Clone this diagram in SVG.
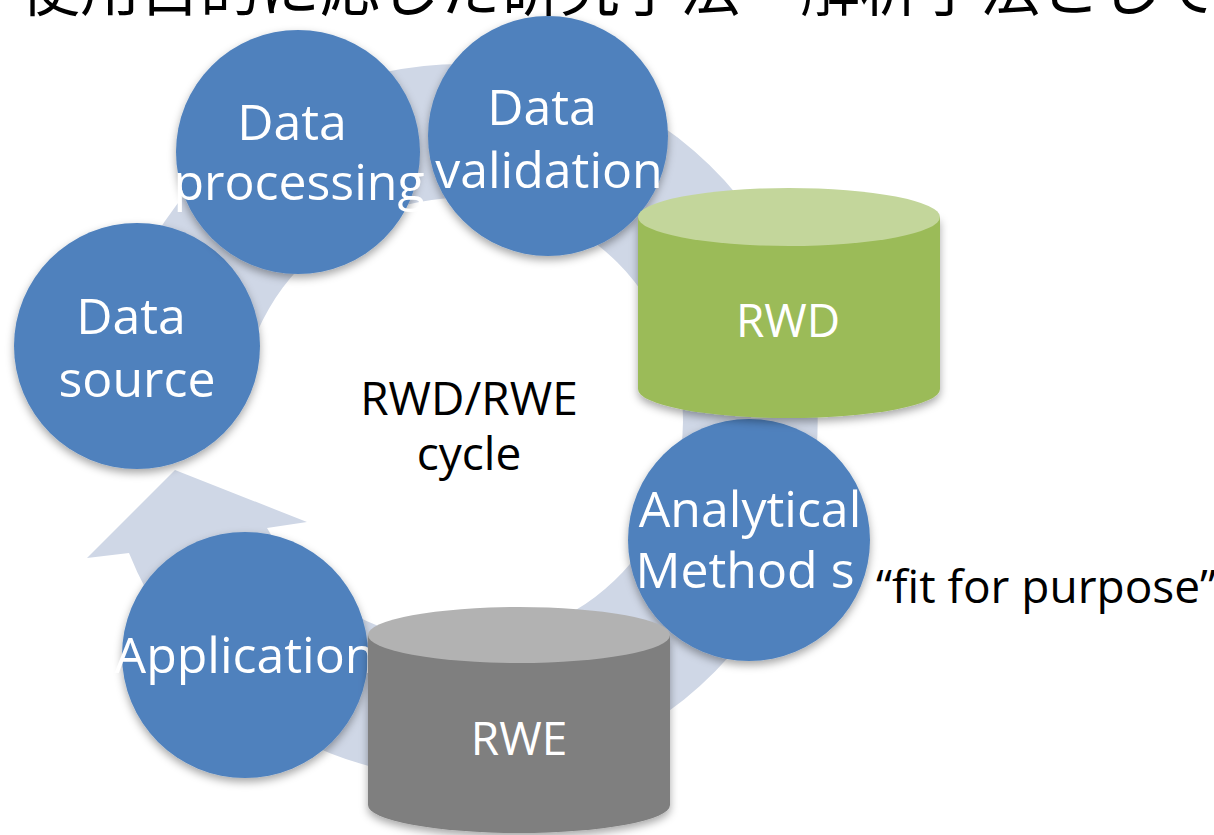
<svg xmlns="http://www.w3.org/2000/svg" width="1214" height="835" viewBox="0 0 1214 835">
  <defs>
    <filter id="sh" x="-20%" y="-20%" width="140%" height="150%">
      <feDropShadow dx="0" dy="4" stdDeviation="4" flood-color="#000" flood-opacity="0.35"/>
    </filter>
    <style>
      .circ { fill: #4F81BD; filter: url(#sh); }
      .wt { fill: #FFFFFF; font-family: "Open Sans", "Noto Sans", sans-serif; font-size: 50px; text-anchor: middle; }
      .cyl-lbl { fill: #FFFFFF; font-family: "Open Sans", "Noto Sans", sans-serif; font-size: 46px; text-anchor: middle; }
      .bk { fill: #000000; font-family: "Open Sans", "Noto Sans", sans-serif; font-size: 46px; }
      .ring { fill: #CFD7E6; }
    </style>
  </defs>
  <rect width="1214" height="835" fill="#FFFFFF"/>

  <text id="title" x="20" y="11" font-family="'Noto Sans CJK JP', sans-serif" font-size="60" fill="#000">使用目的に応じた研究手法・解析手法として</text>

  <g id="connectors">
    <path class="ring" d="M119.6,315.6 A357,357 0 1,1 129,553 L87,558 L175,470 L307,522 L267,528 A222,222 0 1,0 248.7,355.1 Z"/>
  </g>

  <g id="data-source">
    <circle class="circ" cx="137" cy="346" r="123"/>
    <text class="wt" x="131" y="334">Data</text>
    <text class="wt" x="137" y="397">source</text>
  </g>

  <g id="data-processing">
    <circle class="circ" cx="298" cy="152" r="122"/>
    <text class="wt" x="292" y="140">Data</text>
    <text class="wt" x="299" y="200">processing</text>
  </g>

  <g id="data-validation">
    <circle class="circ" cx="548" cy="136" r="120"/>
    <text class="wt" x="542" y="125">Data</text>
    <text class="wt" x="549" y="188">validation</text>
  </g>

  <g id="analytical-methods">
    <circle class="circ" cx="749" cy="540" r="121"/>
    <text class="wt" x="750" y="527">Analytical</text>
    <text class="wt" x="745" y="588">Method s</text>
  </g>

  <g id="application">
    <circle class="circ" cx="245" cy="655" r="123"/>
    <text class="wt" x="245" y="673">Application</text>
  </g>

  <g id="rwd">
    <path d="M638,217 V389 A151,29 0 0,0 940,389 V217 Z" fill="#9BBB59" filter="url(#sh)"/>
    <ellipse cx="789" cy="217" rx="151" ry="29" fill="#C3D69B"/>
    <text class="cyl-lbl" x="788" y="337">RWD</text>
  </g>

  <g id="rwe">
    <path d="M368,635 V805 A151,28 0 0,0 670,805 V635 Z" fill="#7F7F7F" filter="url(#sh)"/>
    <ellipse cx="519" cy="635" rx="151" ry="28" fill="#B2B2B2"/>
    <text class="cyl-lbl" x="519" y="755">RWE</text>
  </g>

  <g id="cycle-label">
    <text class="bk" x="469" y="415" text-anchor="middle">RWD/RWE</text>
    <text class="bk" x="469" y="470" text-anchor="middle">cycle</text>
  </g>

  <g id="fit-label">
    <text class="bk" x="876" y="603">“fit for purpose”</text>
  </g>
</svg>
